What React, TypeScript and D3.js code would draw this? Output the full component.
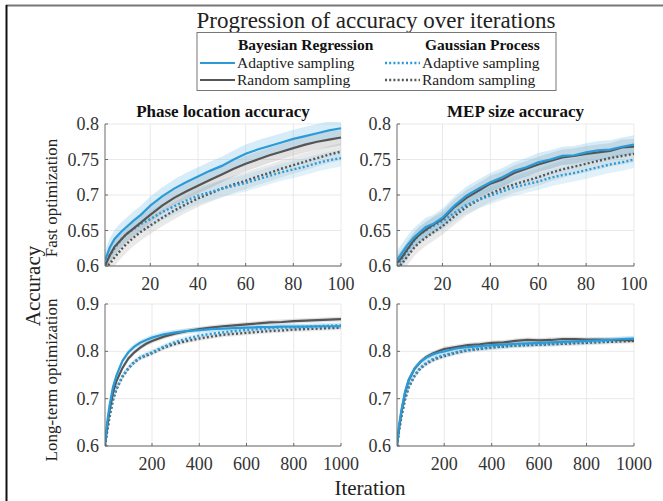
import { area, line, scaleLinear } from 'd3';
import React from 'react';

// iterations sampled for the two time ranges
const fastIter = [1, 3, 5, 8, 10, 13, 16, 20, 25, 30, 35, 40, 45, 50, 55, 60, 65, 70, 75, 80, 85, 90, 95, 100];
const longIter = [1, 10, 20, 35, 50, 75, 100, 125, 150, 175, 200, 250, 300, 350, 400, 450, 500, 550, 600, 650, 700, 750, 800, 850, 900, 950, 1000];

// Phase location accuracy, fast optimization
const phaseFastBrAdaptive = [0.608, 0.626, 0.638, 0.649, 0.655, 0.664, 0.672, 0.685, 0.698, 0.709, 0.718, 0.726, 0.734, 0.741, 0.75, 0.758, 0.764, 0.769, 0.774, 0.779, 0.783, 0.787, 0.791, 0.794];
const phaseFastBrRandom = [0.6, 0.615, 0.627, 0.638, 0.645, 0.653, 0.661, 0.672, 0.685, 0.696, 0.705, 0.713, 0.721, 0.729, 0.737, 0.744, 0.75, 0.756, 0.761, 0.766, 0.771, 0.775, 0.778, 0.781];
const phaseFastGpAdaptive = [0.603, 0.615, 0.625, 0.638, 0.645, 0.652, 0.659, 0.666, 0.676, 0.684, 0.692, 0.699, 0.704, 0.709, 0.713, 0.717, 0.722, 0.727, 0.732, 0.736, 0.74, 0.745, 0.749, 0.752];
const phaseFastGpRandom = [0.597, 0.603, 0.612, 0.624, 0.631, 0.64, 0.648, 0.657, 0.668, 0.678, 0.687, 0.695, 0.702, 0.709, 0.715, 0.72, 0.726, 0.731, 0.737, 0.742, 0.747, 0.752, 0.757, 0.761];

// MEP size accuracy, fast optimization
const mepFastBrAdaptive = [0.608, 0.618, 0.628, 0.64, 0.646, 0.655, 0.659, 0.668, 0.685, 0.699, 0.709, 0.718, 0.725, 0.734, 0.739, 0.746, 0.75, 0.755, 0.756, 0.76, 0.763, 0.764, 0.768, 0.771];
const mepFastBrRandom = [0.604, 0.612, 0.622, 0.636, 0.643, 0.651, 0.658, 0.666, 0.683, 0.696, 0.706, 0.716, 0.722, 0.731, 0.737, 0.743, 0.748, 0.753, 0.755, 0.758, 0.76, 0.762, 0.767, 0.768];
const mepFastGpAdaptive = [0.6, 0.61, 0.62, 0.635, 0.643, 0.65, 0.656, 0.663, 0.675, 0.686, 0.693, 0.699, 0.705, 0.711, 0.715, 0.719, 0.724, 0.728, 0.731, 0.735, 0.739, 0.743, 0.746, 0.75];
const mepFastGpRandom = [0.597, 0.603, 0.612, 0.625, 0.632, 0.64, 0.647, 0.656, 0.67, 0.683, 0.693, 0.702, 0.709, 0.715, 0.72, 0.725, 0.731, 0.736, 0.74, 0.744, 0.748, 0.752, 0.755, 0.758];

// Phase location accuracy, long-term optimization
const phaseLongBrAdaptive = [0.605, 0.65, 0.685, 0.725, 0.75, 0.78, 0.798, 0.81, 0.818, 0.824, 0.829, 0.836, 0.84, 0.843, 0.845, 0.847, 0.848, 0.849, 0.85, 0.851, 0.851, 0.852, 0.852, 0.852, 0.853, 0.853, 0.853];
const phaseLongBrRandom = [0.6, 0.64, 0.675, 0.713, 0.738, 0.765, 0.785, 0.798, 0.808, 0.816, 0.822, 0.831, 0.838, 0.843, 0.847, 0.85, 0.853, 0.855, 0.857, 0.859, 0.861, 0.862, 0.864, 0.865, 0.866, 0.867, 0.868];
const phaseLongGpAdaptive = [0.6, 0.633, 0.665, 0.7, 0.722, 0.748, 0.765, 0.778, 0.787, 0.793, 0.798, 0.81, 0.82, 0.827, 0.833, 0.837, 0.84, 0.843, 0.845, 0.847, 0.849, 0.85, 0.851, 0.852, 0.853, 0.854, 0.855];
const phaseLongGpRandom = [0.6, 0.63, 0.66, 0.697, 0.72, 0.746, 0.764, 0.777, 0.786, 0.791, 0.796, 0.808, 0.816, 0.822, 0.827, 0.831, 0.835, 0.837, 0.839, 0.841, 0.843, 0.844, 0.846, 0.847, 0.848, 0.849, 0.85];

// MEP size accuracy, long-term optimization
const mepLongBrAdaptive = [0.602, 0.645, 0.677, 0.715, 0.74, 0.764, 0.778, 0.787, 0.793, 0.797, 0.8, 0.806, 0.809, 0.811, 0.813, 0.814, 0.816, 0.817, 0.818, 0.819, 0.82, 0.821, 0.822, 0.823, 0.824, 0.826, 0.827];
const mepLongBrRandom = [0.6, 0.64, 0.672, 0.712, 0.738, 0.763, 0.778, 0.788, 0.795, 0.8, 0.805, 0.809, 0.813, 0.815, 0.818, 0.819, 0.822, 0.824, 0.823, 0.824, 0.826, 0.826, 0.825, 0.825, 0.824, 0.824, 0.823];
const mepLongGpAdaptive = [0.6, 0.635, 0.665, 0.7, 0.725, 0.75, 0.766, 0.776, 0.783, 0.788, 0.792, 0.798, 0.803, 0.806, 0.809, 0.811, 0.813, 0.814, 0.815, 0.816, 0.818, 0.819, 0.82, 0.821, 0.823, 0.824, 0.826];
const mepLongGpRandom = [0.6, 0.633, 0.663, 0.698, 0.723, 0.748, 0.764, 0.774, 0.781, 0.786, 0.79, 0.797, 0.802, 0.805, 0.808, 0.81, 0.812, 0.813, 0.814, 0.815, 0.816, 0.817, 0.818, 0.819, 0.82, 0.821, 0.822];

// half-width of the shaded spread, per series (BR adaptive, BR random, GP adaptive, GP random)
const fastSpread = [0.013, 0.011, 0.012, 0.012];
const longSpread = [0.006, 0.005, 0.006, 0.005];

const fastYTicks = [0.6, 0.65, 0.7, 0.75, 0.8];
const longYTicks = [0.6, 0.7, 0.8, 0.9];
const fastXTicks = [20, 40, 60, 80, 100];
const longXTicks = [200, 400, 600, 800, 1000];

const seriesNames = ['Adaptive sampling', 'Random sampling'];
const methodNames = ['Bayesian Regression', 'Gaussian Process'];

const BLUE = '#2b9bd8';
const GRAY = '#555555';
const FONT = '"Liberation Serif", "DejaVu Serif", serif';

const colors = [BLUE, GRAY, BLUE, GRAY];
const bandFill = ['#8cc9ee', '#9a9a9a', '#9ccfee', '#a8a8a8'];
const bandOpacity = [0.35, 0.3, 0.3, 0.25];
const dashed = [false, false, true, true];

interface PanelProps {
  x0: number;
  x1: number;
  y0: number;
  y1: number;
  iters: number[];
  series: number[][];
  spread: number[];
  xDomain: [number, number];
  yDomain: [number, number];
  xTicks: number[];
  yTicks: number[];
  title?: string;
}

const Panel: React.FC<PanelProps> = ({ x0, x1, y0, y1, iters, series, spread, xDomain, yDomain, xTicks, yTicks, title }) => {
  const xScale = scaleLinear().domain(xDomain).range([x0, x1]);
  const yScale = scaleLinear().domain(yDomain).range([y1, y0]);
  const fmt = (v: number) => String(+v.toFixed(2));

  const pts = (vals: number[]) => vals.map((v, i) => ({ x: iters[i], y: v }));
  const lineGen = line<{ x: number; y: number }>()
    .x((d) => xScale(d.x))
    .y((d) => yScale(d.y));

  // draw order: bands first, then dotted, then solid on top
  const order = [3, 2, 1, 0];

  return (
    <g>
      {xTicks.map((t) => (
        <line key={'gx' + t} x1={xScale(t)} x2={xScale(t)} y1={y0} y2={y1} stroke="#e3e3e3" strokeWidth={0.8} />
      ))}
      {yTicks.map((t) => (
        <line key={'gy' + t} x1={x0} x2={x1} y1={yScale(t)} y2={yScale(t)} stroke="#e3e3e3" strokeWidth={0.8} />
      ))}
      <clipPath id={`clip-${x0}-${y0}`}>
        <rect x={x0} y={y0 - 2} width={x1 - x0 + 2} height={y1 - y0 + 2} />
      </clipPath>
      <g clipPath={`url(#clip-${x0}-${y0})`}>
        {order.map((k) => {
          const areaGen = area<{ x: number; y: number }>()
            .x((d) => xScale(d.x))
            .y0((d) => yScale(d.y - spread[k]))
            .y1((d) => yScale(d.y + spread[k]));
          return <path key={'a' + k} d={areaGen(pts(series[k])) || ''} fill={bandFill[k]} opacity={bandOpacity[k]} />;
        })}
        {order.map((k) => (
          <path
            key={'l' + k}
            d={lineGen(pts(series[k])) || ''}
            fill="none"
            stroke={colors[k]}
            strokeWidth={dashed[k] ? 2.4 : 2.2}
            strokeDasharray={dashed[k] ? '2 2.2' : undefined}
          />
        ))}
      </g>
      <line x1={x0} x2={x0} y1={y0} y2={y1} stroke="#6a6a6a" strokeWidth={1} />
      <line x1={x0} x2={x1} y1={y1} y2={y1} stroke="#6a6a6a" strokeWidth={1} />
      {yTicks.map((t) => (
        <g key={'ty' + t}>
          <line x1={x0} x2={x0 + 3} y1={yScale(t)} y2={yScale(t)} stroke="#6a6a6a" />
          <text x={x0 - 6} y={yScale(t) + 6} textAnchor="end" fontFamily={FONT} fontSize={18} fill="#333">
            {fmt(t)}
          </text>
        </g>
      ))}
      {xTicks.map((t) => (
        <g key={'tx' + t}>
          <line x1={xScale(t)} x2={xScale(t)} y1={y1} y2={y1 - 3} stroke="#6a6a6a" />
          <text x={xScale(t)} y={y1 + 24} textAnchor="middle" fontFamily={FONT} fontSize={18} fill="#333">
            {t}
          </text>
        </g>
      ))}
      {title && (
        <text x={(x0 + x1) / 2} y={y0 - 7} textAnchor="middle" fontFamily={FONT} fontWeight="bold" fontSize={17} fill="#111">
          {title}
        </text>
      )}
    </g>
  );
};

const App: React.FC = () => {
  const W = 663;
  const H = 501;
  const leftX: [number, number] = [105, 341];
  const rightX: [number, number] = [397, 634];
  const topY: [number, number] = [124, 266];
  const botY: [number, number] = [304, 446];

  return (
    <svg width={W} height={H} style={{ position: 'absolute', left: 0, top: 0, background: '#fff' }}>
      <line x1={6} x2={W} y1={5.5} y2={5.5} stroke="#777" strokeWidth={2} />
      <line x1={6.5} x2={6.5} y1={5} y2={H} stroke="#111" strokeWidth={2} />

      <text x={376} y={28} textAnchor="middle" fontFamily={FONT} fontSize={23} fill="#222">
        Progression of accuracy over iterations
      </text>

      {/* legend */}
      <rect x={197} y={32.5} width={359} height={58} fill="#fff" stroke="#777" strokeWidth={1} />
      {methodNames.map((m, c) => (
        <text key={m} x={c === 0 ? 238 : 425} y={50} fontFamily={FONT} fontWeight="bold" fontSize={15.5} fill="#111">
          {m}
        </text>
      ))}
      {[0, 1, 2, 3].map((k) => {
        const col = dashed[k] ? 1 : 0;
        const row = k % 2;
        const lx = col === 0 ? 200 : 385;
        const ly = row === 0 ? 63 : 80;
        return (
          <g key={'lg' + k}>
            <line
              x1={lx}
              x2={lx + 35}
              y1={ly}
              y2={ly}
              stroke={colors[k]}
              strokeWidth={dashed[k] ? 2.4 : 2.2}
              strokeDasharray={dashed[k] ? '2 2.2' : undefined}
            />
            <text x={lx + 37} y={ly + 5} fontFamily={FONT} fontSize={15.5} fill="#222">
              {seriesNames[row]}
            </text>
          </g>
        );
      })}

      <Panel
        x0={leftX[0]} x1={leftX[1]} y0={topY[0]} y1={topY[1]}
        iters={fastIter}
        series={[phaseFastBrAdaptive, phaseFastBrRandom, phaseFastGpAdaptive, phaseFastGpRandom]}
        spread={fastSpread}
        xDomain={[1, 100]} yDomain={[0.6, 0.8]}
        xTicks={fastXTicks} yTicks={fastYTicks}
        title="Phase location accuracy"
      />
      <Panel
        x0={rightX[0]} x1={rightX[1]} y0={topY[0]} y1={topY[1]}
        iters={fastIter}
        series={[mepFastBrAdaptive, mepFastBrRandom, mepFastGpAdaptive, mepFastGpRandom]}
        spread={fastSpread}
        xDomain={[1, 100]} yDomain={[0.6, 0.8]}
        xTicks={fastXTicks} yTicks={fastYTicks}
        title="MEP size accuracy"
      />
      <Panel
        x0={leftX[0]} x1={leftX[1]} y0={botY[0]} y1={botY[1]}
        iters={longIter}
        series={[phaseLongBrAdaptive, phaseLongBrRandom, phaseLongGpAdaptive, phaseLongGpRandom]}
        spread={longSpread}
        xDomain={[1, 1000]} yDomain={[0.6, 0.9]}
        xTicks={longXTicks} yTicks={longYTicks}
      />
      <Panel
        x0={rightX[0]} x1={rightX[1]} y0={botY[0]} y1={botY[1]}
        iters={longIter}
        series={[mepLongBrAdaptive, mepLongBrRandom, mepLongGpAdaptive, mepLongGpRandom]}
        spread={longSpread}
        xDomain={[1, 1000]} yDomain={[0.6, 0.9]}
        xTicks={longXTicks} yTicks={longYTicks}
      />

      <text transform="translate(40,286) rotate(-90)" textAnchor="middle" fontFamily={FONT} fontSize={21} fill="#222">
        Accuracy
      </text>
      <text transform="translate(57,198) rotate(-90)" textAnchor="middle" fontFamily={FONT} fontSize={17} fill="#222">
        Fast optimization
      </text>
      <text transform="translate(57,380) rotate(-90)" textAnchor="middle" fontFamily={FONT} fontSize={17} fill="#222">
        Long-term optimization
      </text>
      <text x={370} y={495} textAnchor="middle" fontFamily={FONT} fontSize={21} fill="#222">
        Iteration
      </text>
    </svg>
  );
};

export default App;
